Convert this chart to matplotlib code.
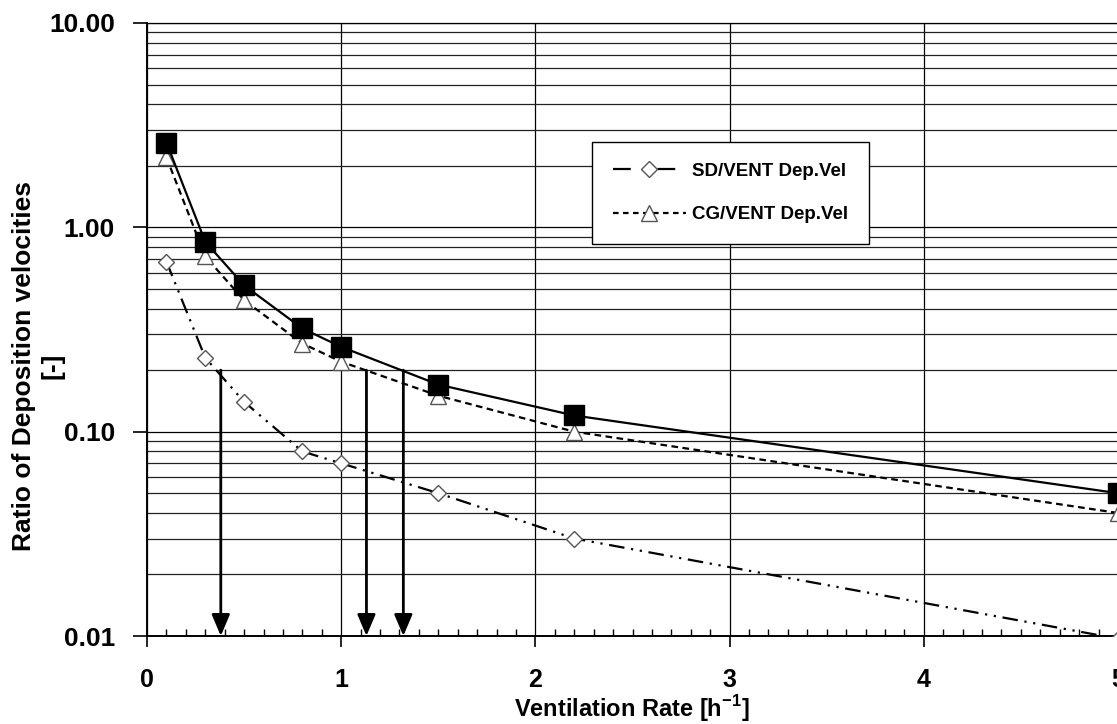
import matplotlib
matplotlib.use('Agg')
import matplotlib.pyplot as plt
from matplotlib.lines import Line2D
from matplotlib.ticker import FixedLocator, MultipleLocator, NullFormatter

plt.rcParams['font.family'] = ['Liberation Sans', 'DejaVu Sans']
plt.rcParams['font.weight'] = 'bold'
plt.rcParams['mathtext.fontset'] = 'custom'
plt.rcParams['mathtext.rm'] = 'Liberation Sans:bold'
plt.rcParams['mathtext.bf'] = 'Liberation Sans:bold'

# ventilation rates [1/h]
vent_rate = [0.1, 0.3, 0.5, 0.8, 1.0, 1.5, 2.2, 5.0]

# ratio of deposition velocities
total_ratio = [2.6, 0.85, 0.52, 0.32, 0.26, 0.17, 0.12, 0.05]
cg_ratio = [2.2, 0.72, 0.44, 0.27, 0.22, 0.15, 0.10, 0.04]
sd_ratio = [0.68, 0.23, 0.14, 0.08, 0.07, 0.05, 0.03, 0.0097]

arrow_x = [0.38, 1.13, 1.32]
arrow_top = 0.2

y_ticks = [0.01, 0.1, 1.0, 10.0]
y_tick_labels = ['0.01', '0.10', '1.00', '10.00']
x_ticks = [0, 1, 2, 3, 4, 5]

W, H = 1117, 724
fig = plt.figure(figsize=(W / 100, H / 100), dpi=100)
ax = fig.add_axes([147 / W, 1 - 636 / H, (1118 - 147) / W, (636 - 23) / H])

ax.set_yscale('log')
ax.set_xlim(0, 5)
ax.set_ylim(0.01, 10)

# grid: every minor decade step horizontally, whole units vertically
ax.yaxis.set_minor_locator(FixedLocator(
	[m * 10.0 ** e for e in (-2, -1, 0) for m in range(2, 10)]))
ax.yaxis.set_minor_formatter(NullFormatter())
ax.grid(True, which='major', axis='both', color='black', linewidth=0.9)
ax.grid(True, which='minor', axis='y', color='#222222', linewidth=0.9)
ax.set_axisbelow(True)

ax.set_yticks(y_ticks)
ax.set_yticklabels(y_tick_labels, fontsize=19, fontweight='bold')
ax.set_xticks(x_ticks)
ax.set_xticklabels([str(v) for v in x_ticks], fontsize=18, fontweight='bold')
ax.xaxis.set_minor_locator(MultipleLocator(0.1))

ax.tick_params(axis='y', which='major', direction='out', length=10, width=1.2, pad=13)
ax.tick_params(axis='y', which='minor', length=0)
ax.tick_params(axis='x', which='major', direction='out', length=8, width=1.2, pad=15)
ax.tick_params(axis='x', which='minor', direction='in', length=5, width=1.0)

for side in ('left', 'bottom'):
	ax.spines[side].set_linewidth(1.4)
ax.spines['top'].set_linewidth(0.9)

ax.plot(vent_rate, sd_ratio, color='black', linewidth=1.6,
	linestyle=(0, (7, 3, 1, 3, 1, 3)),
	marker='D', markersize=8, markerfacecolor='white',
	markeredgecolor='#555555', markeredgewidth=1.0, zorder=3)
ax.plot(vent_rate, cg_ratio, color='black', linewidth=1.6,
	linestyle=(0, (3, 2)),
	marker='^', markersize=11, markerfacecolor='white',
	markeredgecolor='#555555', markeredgewidth=1.0, zorder=4)
ax.plot(vent_rate, total_ratio, color='black', linewidth=1.6,
	marker='s', markersize=14, markerfacecolor='black',
	markeredgecolor='black', zorder=5)

for xa in arrow_x:
	ax.annotate('', xy=(xa, 0.01), xytext=(xa, arrow_top),
		arrowprops=dict(arrowstyle='-|>,head_length=1.3,head_width=0.55',
			color='black', linewidth=2.0, shrinkA=0, shrinkB=0),
		zorder=6)

fig.text(632 / W, 1 - 717 / H, 'Ventilation Rate [h$^{-1}$]',
	ha='center', va='baseline', fontsize=17, fontweight='bold')
fig.text(38 / W, 1 - 366 / H, 'Ratio of Deposition velocities\n[-]',
	rotation=90, ha='center', va='center', multialignment='center',
	fontsize=19, fontweight='bold', linespacing=1.25)

handles = [
	Line2D([], [], color='black', linewidth=1.6, linestyle=(0, (8, 12)),
		marker='D', markersize=8, markerfacecolor='white',
		markeredgecolor='#555555'),
	Line2D([], [], color='black', linewidth=1.6, linestyle=(0, (2.5, 2)),
		marker='^', markersize=11, markerfacecolor='white',
		markeredgecolor='#555555'),
]
leg = ax.legend(handles, ['SD/VENT Dep.Vel', 'CG/VENT Dep.Vel'],
	loc='upper left', bbox_to_anchor=(592 / W, 1 - 142 / H),
	bbox_transform=fig.transFigure, borderaxespad=0,
	prop={'size': 13.5, 'weight': 'bold'}, numpoints=1,
	handlelength=3.9, handletextpad=0.35, borderpad=1.1, labelspacing=1.4,
	fancybox=False, frameon=True, framealpha=1, edgecolor='black')
leg.get_frame().set_linewidth(1.0)

fig.savefig('out.png', dpi=100)
